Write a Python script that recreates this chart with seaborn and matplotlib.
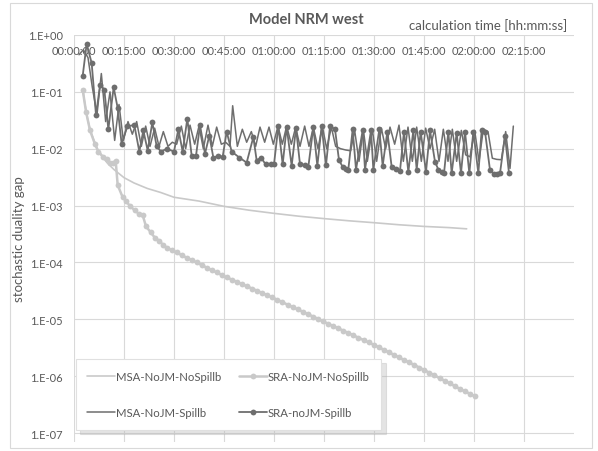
import matplotlib
matplotlib.use("Agg")
import matplotlib.pyplot as plt
import matplotlib.ticker as mticker
from matplotlib.patches import Rectangle
import numpy as np
import seaborn as sns

# calculation time in minutes, duality gap values
msa_nospill_t = [2.6, 3.3, 4.0, 4.8, 5.8, 7.0, 8.5, 10.0, 12.0, 15.0, 18.0, 22.0, 26.0,
                 30.0, 37.5, 45.0, 52.5, 60.0, 67.5, 75.0, 82.5, 90.0, 97.5, 105.0, 112.5, 117.8]
msa_nospill_v = [0.11, 0.060, 0.035, 0.022, 0.015, 0.010, 0.0072, 0.0056, 0.0043, 0.0031, 0.0025,
                 0.0020, 0.0017, 0.0014, 0.0012, 0.00097, 0.00083, 0.00073, 0.00065, 0.00059,
                 0.00054, 0.00050, 0.00046, 0.00043, 0.00041, 0.00039]

sra_nospill_t = [2.6, 3.6, 4.8, 6.3, 7.3, 8.8, 10.0, 10.8, 11.8, 12.5, 13.1, 14.6, 15.6, 16.8,
                 18.2, 19.4, 20.6, 21.6, 23.0, 24.3, 25.6, 26.8, 28.0, 29.3, 30.8, 32.3, 33.8,
                 35.3, 36.8, 38.3, 39.8, 41.3, 42.8, 44.3, 45.8, 47.3, 48.9, 50.4, 51.9, 53.4,
                 54.9, 56.5, 58.0, 59.5, 61.0, 62.5, 64.1, 65.6, 67.1, 68.6, 70.1, 71.7, 73.2,
                 74.7, 76.2, 77.7, 79.3, 80.8, 82.3, 83.8, 85.3, 86.9, 88.4, 89.9, 91.4, 92.9,
                 94.5, 96.0, 97.5, 99.0, 100.5, 102.1, 103.6, 105.1, 106.6, 108.1, 109.7, 111.2,
                 112.7, 114.2, 115.7, 117.3, 118.8, 120.3]
sra_nospill_v = [0.11, 0.045, 0.021, 0.012, 0.0089, 0.0071, 0.0067, 0.0056, 0.0055, 0.0062,
                 0.0023, 0.0014, 0.0012, 0.00098, 0.00083, 0.00072, 0.00068, 0.00043, 0.00034,
                 0.00027, 0.00024, 0.00020, 0.00018, 0.000165, 0.00015, 0.000134, 0.000121,
                 0.00011, 0.0001, 9.0e-5, 8.1e-5, 7.3e-5, 6.7e-5, 6.0e-5, 5.47e-5, 5.0e-5,
                 4.55e-5, 4.16e-5, 3.8e-5, 3.48e-5, 3.18e-5, 2.89e-5, 2.64e-5, 2.42e-5, 2.2e-5,
                 2.0e-5, 1.81e-5, 1.64e-5, 1.5e-5, 1.36e-5, 1.24e-5, 1.12e-5, 1.02e-5, 9.2e-6,
                 8.4e-6, 7.66e-6, 6.93e-6, 6.31e-6, 5.74e-6, 5.24e-6, 4.76e-6, 4.31e-6, 3.92e-6,
                 3.57e-6, 3.23e-6, 2.92e-6, 2.62e-6, 2.37e-6, 2.14e-6, 1.93e-6, 1.75e-6, 1.57e-6,
                 1.42e-6, 1.28e-6, 1.15e-6, 1.04e-6, 9.2e-7, 8.3e-7, 7.5e-7, 6.7e-7, 6.0e-7,
                 5.4e-7, 4.9e-7, 4.4e-7]

msa_spill_t = [1.5, 2.8, 4.2, 5.5, 6.9, 8.2, 9.5, 10.8, 12.2, 13.5, 14.8, 16.2, 17.5, 18.8, 20.2,
               21.5, 22.8, 24.2, 25.5, 26.8, 28.2, 29.5, 30.8, 32.2, 33.5, 34.8, 36.2, 37.5, 38.8,
               40.2, 41.5, 42.8, 44.2, 45.5, 46.8, 47.6, 49.0, 50.5, 51.8, 53.2, 54.5, 55.8, 57.2,
               58.5, 59.8, 61.2, 62.5, 63.8, 65.2, 66.5, 67.8, 69.2, 70.5, 71.8, 73.2, 74.5, 75.8,
               77.2, 78.5, 80.0, 81.5, 83.0, 84.2, 85.5, 86.8, 88.0, 89.5, 90.8, 92.2, 93.5, 94.8,
               96.2, 97.5, 98.8, 100.2, 101.5, 102.8, 104.2, 105.5, 106.8, 108.2, 109.5, 110.8,
               112.2, 113.5, 114.8, 116.2, 117.5, 118.8, 120.2, 121.5, 122.8, 124.2, 125.5, 126.8,
               128.2, 129.5, 130.8, 131.8]
msa_spill_v = [0.45, 0.55, 0.40, 0.12, 0.040, 0.21, 0.030, 0.10, 0.014, 0.060, 0.014, 0.030,
               0.018, 0.030, 0.011, 0.025, 0.011, 0.023, 0.011, 0.020, 0.011, 0.013, 0.012, 0.025,
               0.010, 0.026, 0.012, 0.025, 0.010, 0.026, 0.011, 0.024, 0.012, 0.013, 0.011, 0.057,
               0.011, 0.022, 0.013, 0.020, 0.011, 0.024, 0.013, 0.024, 0.012, 0.025, 0.012, 0.025,
               0.012, 0.024, 0.011, 0.025, 0.011, 0.024, 0.010, 0.025, 0.010, 0.024, 0.011, 0.010,
               0.0095, 0.0092, 0.021, 0.0060, 0.022, 0.0060, 0.022, 0.0060, 0.023, 0.010, 0.024,
               0.012, 0.026, 0.0060, 0.024, 0.0060, 0.024, 0.0060, 0.023, 0.010, 0.022, 0.0060,
               0.022, 0.0060, 0.022, 0.0060, 0.021, 0.0078, 0.0072, 0.021, 0.0060, 0.022, 0.020,
               0.0068, 0.0065, 0.0064, 0.020, 0.0045, 0.025]

sra_spill_t = [2.6, 3.8, 5.3, 6.6, 7.8, 9.1, 10.3, 11.9, 13.1, 14.3, 16.0, 18.1, 19.6, 20.8, 22.1,
               23.5, 24.8, 26.1, 27.8, 30.0, 31.3, 32.6, 34.0, 35.3, 36.6, 37.8, 39.3, 40.6, 41.8,
               43.3, 44.6, 45.8, 47.3, 49.6, 51.8, 53.8, 54.8, 56.1, 57.5, 59.0, 60.0, 61.3, 62.6,
               63.8, 65.3, 66.6, 67.8, 69.3, 70.3, 71.8, 73.0, 74.3, 75.6, 76.8, 78.3, 79.5, 80.6,
               81.5, 82.3, 83.6, 84.6, 86.6, 87.3, 89.1, 89.8, 91.6, 92.6, 94.0, 95.3, 96.6, 97.8,
               99.0, 100.3, 101.8, 102.8, 104.0, 105.6, 106.8, 108.3, 109.3, 110.3, 111.0, 112.3,
               113.3, 114.8, 116.1, 117.3, 118.6, 119.8, 121.3, 122.3, 123.3, 124.8, 126.0, 126.8,
               127.8, 129.3, 130.5]
sra_spill_v = [0.19, 0.70, 0.32, 0.039, 0.13, 0.11, 0.022, 0.12, 0.052, 0.012, 0.025, 0.026,
               0.0089, 0.021, 0.0093, 0.029, 0.011, 0.0089, 0.010, 0.0089, 0.022, 0.0089, 0.034,
               0.0075, 0.0075, 0.026, 0.0082, 0.017, 0.0070, 0.0075, 0.0072, 0.020, 0.0089, 0.0070,
               0.0057, 0.016, 0.0062, 0.0070, 0.0053, 0.0053, 0.0053, 0.025, 0.0053, 0.024, 0.0050,
               0.023, 0.0053, 0.0052, 0.0048, 0.024, 0.0050, 0.025, 0.0051, 0.025, 0.022, 0.0063,
               0.0048, 0.0044, 0.0043, 0.022, 0.0043, 0.021, 0.0043, 0.021, 0.0043, 0.022, 0.0050,
               0.020, 0.0048, 0.0044, 0.0041, 0.020, 0.0039, 0.021, 0.0043, 0.020, 0.0039, 0.021,
               0.0059, 0.0043, 0.0039, 0.0037, 0.020, 0.0037, 0.019, 0.0037, 0.020, 0.0037, 0.020,
               0.0037, 0.021, 0.020, 0.0042, 0.0036, 0.0036, 0.0037, 0.017, 0.0037]

x_ticks = [0, 15, 30, 45, 60, 75, 90, 105, 120, 135]

light = "#c9c9c9"
dark = "#6e6e6e"
txt = "#595959"

sns.set_theme(style="white")
plt.rcParams["font.family"] = ["Lato", "DejaVu Sans"]

fig = plt.figure(figsize=(5.98, 4.52), dpi=100)
ax = fig.add_axes([74 / 598, 1 - 443 / 452, 500 / 598, 407 / 452])

sns.lineplot(x=msa_nospill_t, y=msa_nospill_v, ax=ax, color=light, lw=1.2,
             label="MSA-NoJM-NoSpillb", estimator=None, sort=False)
sns.lineplot(x=sra_nospill_t, y=sra_nospill_v, ax=ax, color=light, lw=1.8, marker="o",
             markersize=4.2, markeredgewidth=0, label="SRA-NoJM-NoSpillb",
             estimator=None, sort=False)
sns.lineplot(x=msa_spill_t, y=msa_spill_v, ax=ax, color=dark, lw=1.1,
             label="MSA-NoJM-Spillb", estimator=None, sort=False)
sns.lineplot(x=sra_spill_t, y=sra_spill_v, ax=ax, color=dark, lw=1.3, marker="o",
             markersize=4.2, markeredgewidth=0, label="SRA-noJM-Spillb",
             estimator=None, sort=False)

ax.set_yscale("log")
ax.set_ylim(10 ** (-7 - 9 / 57), 1)
ax.set_xlim(0, 150)
ax.set_yticks(10.0 ** np.arange(-7, 1))
ax.yaxis.set_minor_locator(mticker.NullLocator())
ax.yaxis.set_major_formatter(mticker.FuncFormatter(
    lambda v, p: "1.E{:+03d}".format(int(round(np.log10(v))))))
ax.set_xticks(x_ticks)
ax.xaxis.set_major_formatter(mticker.FuncFormatter(
    lambda v, p: "{:02d}:{:02d}:00".format(int(v) // 60, int(v) % 60)))

ax.grid(True, color="#d9d9d9", lw=0.8)
for s in ax.spines.values():
    s.set_visible(False)
ax.tick_params(axis="x", length=0, labeltop=True, labelbottom=False, pad=-15,
               labelsize=8, labelcolor=txt)
ax.tick_params(axis="y", length=0, pad=8, labelsize=8, labelcolor=txt)
ax.set_xlabel("")
ax.set_ylabel("stochastic duality gap", fontsize=9.5, color=txt, labelpad=2)

fig.text(306 / 598, 1 - 20 / 452, "Model NRM west", ha="center", va="center",
         fontsize=10.5, fontweight="bold", color=txt)
fig.text(567 / 598, 1 - 26 / 452, "calculation time [hh:mm:ss]", ha="right", va="center",
         fontsize=9.5, color=txt)

# legend rows as in the reference: NoSpillb pair on top, Spillb pair below
handles, labels = ax.get_legend_handles_labels()
order = [0, 2, 1, 3]
leg = ax.legend([handles[i] for i in order], [labels[i] for i in order],
                loc="lower left", bbox_to_anchor=(0.003, 0.03, 0.612, 0.19), mode="expand",
                ncol=2, fontsize=8.2, labelspacing=2.2, borderpad=1.05, handlelength=2.4,
                handletextpad=0.1, columnspacing=2.0, frameon=True, fancybox=False,
                shadow={"color": "0.7", "alpha": 0.35, "ox": 3, "oy": -3}, borderaxespad=0)
leg.get_frame().set_edgecolor("#e0e0e0")
leg.get_frame().set_linewidth(0.8)
for t in leg.get_texts():
    t.set_color(txt)

fig.patches.append(Rectangle((10 / 598, 1 - 449 / 452), 582 / 598, 445 / 452,
                             transform=fig.transFigure, fill=False,
                             edgecolor="#d9d9d9", lw=0.8))

fig.savefig("out.png", dpi=100)
